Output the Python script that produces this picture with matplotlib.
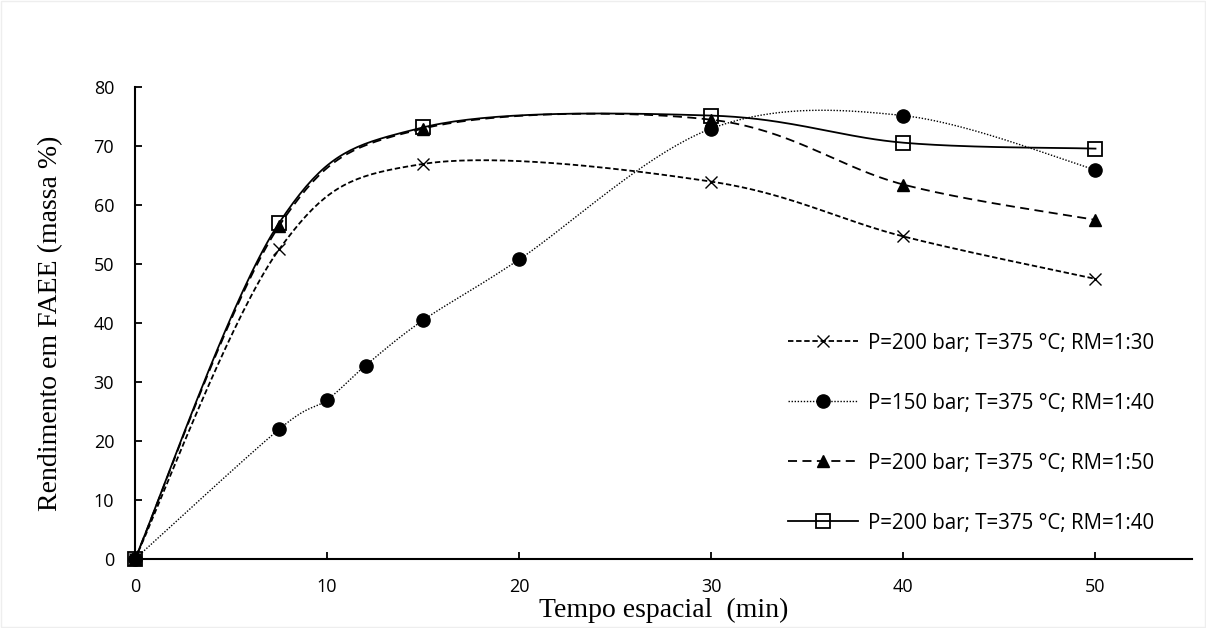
import numpy as np
import matplotlib
matplotlib.use('Agg')
import matplotlib.pyplot as plt

# data
x_a = [0, 7.5, 15, 30, 40, 50]
y_a = [0, 52.5, 67.0, 64.0, 54.7, 47.5]          # P=200, RM=1:30

x_b = [0, 7.5, 10, 12, 15, 20, 30, 40, 50]
y_b = [0, 22.0, 27.0, 32.8, 40.5, 50.8, 73.0, 75.2, 66.0]   # P=150, RM=1:40

x_c = [0, 7.5, 15, 30, 40, 50]
y_c = [0, 56.5, 73.0, 74.5, 63.5, 57.5]          # P=200, RM=1:50

x_d = [0, 7.5, 15, 30, 40, 50]
y_d = [0, 57.0, 73.2, 75.2, 70.6, 69.6]          # P=200, RM=1:40

labels = ['P=200 bar; T=375 °C; RM=1:30',
          'P=150 bar; T=375 °C; RM=1:40',
          'P=200 bar; T=375 °C; RM=1:50',
          'P=200 bar; T=375 °C; RM=1:40']


def smooth(x, y, n=40):
    # excel-like smoothed line: cubic bezier with catmull-rom control points
    x = np.asarray(x, float); y = np.asarray(y, float)
    px = np.concatenate([[x[0]], x, [x[-1]]])
    py = np.concatenate([[y[0]], y, [y[-1]]])
    xs, ys = [], []
    t = np.linspace(0, 1, n)
    for i in range(1, len(px) - 2):
        p0 = np.array([px[i], py[i]]); p3 = np.array([px[i+1], py[i+1]])
        p1 = p0 + (np.array([px[i+1], py[i+1]]) - np.array([px[i-1], py[i-1]])) / 6.
        p2 = p3 - (np.array([px[i+2], py[i+2]]) - np.array([px[i], py[i]])) / 6.
        b = ((1-t)**3)[:, None]*p0 + (3*(1-t)**2*t)[:, None]*p1 + (3*(1-t)*t**2)[:, None]*p2 + (t**3)[:, None]*p3
        xs.append(b[:, 0]); ys.append(b[:, 1])
    return np.concatenate(xs), np.concatenate(ys)


fig = plt.figure(figsize=(12.06, 6.28), dpi=100)
ax = fig.add_axes([0.112, 0.110, 0.876, 0.751])

styles = [
    dict(ls=(0, (3, 1.5)), lw=1.3, marker='x', ms=9, mfc='none', mew=1.0),
    dict(ls=(0, (1, 1.2)), lw=1.0, marker='o', ms=9.5, mfc='black', mew=1.0),
    dict(ls=(0, (5, 3)), lw=1.3, marker='^', ms=9, mfc='black', mew=1.0),
    dict(ls='-', lw=1.3, marker='s', ms=10, mfc='none', mew=1.3),
]
series = [(x_a, y_a), (x_b, y_b), (x_c, y_c), (x_d, y_d)]

handles = []
for (xx, yy), st, lab in zip(series, styles, labels):
    sx, sy = smooth(xx, yy)
    ax.plot(sx, sy, color='black', ls=st['ls'], lw=st['lw'])
    ax.plot(xx, yy, ls='none', marker=st['marker'], ms=st['ms'], mfc=st['mfc'],
            mec='black', mew=st['mew'], color='black', clip_on=False, zorder=4)
    h, = ax.plot([], [], color='black', ls=st['ls'], lw=st['lw'], marker=st['marker'],
                 ms=st['ms'], mfc=st['mfc'], mec='black', mew=st['mew'])
    handles.append(h)

ax.set_xlim(0, 55)
ax.set_ylim(0, 80)
ax.set_xticks([0, 10, 20, 30, 40, 50])
ax.set_yticks(np.arange(0, 81, 10))
for s in ['top', 'right']:
    ax.spines[s].set_visible(False)
for s in ['left', 'bottom']:
    ax.spines[s].set_linewidth(1.5)
ax.tick_params(direction='in', length=5, width=1.3, labelsize=13)
ax.tick_params(axis='x', pad=14)
ax.tick_params(axis='y', pad=15)
for lab in ax.get_xticklabels() + ax.get_yticklabels():
    lab.set_family('Open Sans')

ax.set_ylabel('Rendimento em FAEE (massa %)', family='Liberation Serif', fontsize=20, labelpad=22)
ax.set_xlabel('Tempo espacial  (min)', family='Liberation Serif', fontsize=20, labelpad=1)

leg = ax.legend(handles, labels, loc='upper left', bbox_to_anchor=(0.638, 0.50),
                bbox_transform=fig.transFigure, frameon=False, numpoints=1,
                prop={'family': 'Open Sans', 'size': 14.8}, handlelength=3.4,
                labelspacing=1.9, handletextpad=0.5)

fig.patches.append(plt.Rectangle((0.001, 0.001), 0.998, 0.998, transform=fig.transFigure,
                                 fill=False, ec='#eeeeee', lw=1))

fig.savefig('out.png', dpi=100)
